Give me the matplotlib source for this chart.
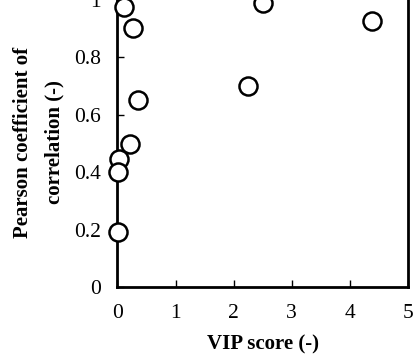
import matplotlib
matplotlib.use("Agg")
import matplotlib.pyplot as plt
from matplotlib.ticker import FuncFormatter

plt.rcParams['font.family'] = ['Liberation Serif', 'DejaVu Serif']

# VIP score vs Pearson coefficient
vip = [0.11, 0.27, 2.50, 4.38, 2.24, 0.35, 0.22, 0.03, 0.01, 0.01]
pearson = [0.975, 0.904, 0.99, 0.926, 0.70, 0.65, 0.50, 0.445, 0.40, 0.19]

xticks = [0, 1, 2, 3, 4, 5]
yticks = [0, 0.2, 0.4, 0.6, 0.8, 1.0]

fig = plt.figure(figsize=(4.15, 3.55), dpi=100)
ax = fig.add_axes([0.283, 0.1915, 0.700, 0.8085])

ax.plot(vip, pearson, 'o', ms=13, mfc='white', mec='black', mew=1.8,
        ls='none', clip_on=False, zorder=3)

ax.set_xlim(0, 5)
ax.set_ylim(0, 1.0)
ax.set_xticks(xticks)
ax.set_yticks(yticks)
ax.yaxis.set_major_formatter(FuncFormatter(lambda v, p: '%g' % v))

for s in ['left', 'bottom', 'right']:
    ax.spines[s].set_linewidth(2)
ax.spines['top'].set_visible(False)

ax.tick_params(direction='in', length=5, width=1, labelsize=15.5)
ax.tick_params(axis='y', pad=12)
ax.tick_params(axis='x', pad=12)

ax.set_xlabel('VIP score (-)', fontsize=15, fontweight='bold', va='center')
ax.xaxis.set_label_coords(0.502, -0.20)
ax.set_ylabel('Pearson coefficient of\ncorrelation (-)', fontsize=15,
              fontweight='bold', va='center', linespacing=1.75)
ax.yaxis.set_label_coords(-0.272, 0.505)

fig.savefig('out.png', dpi=100)
